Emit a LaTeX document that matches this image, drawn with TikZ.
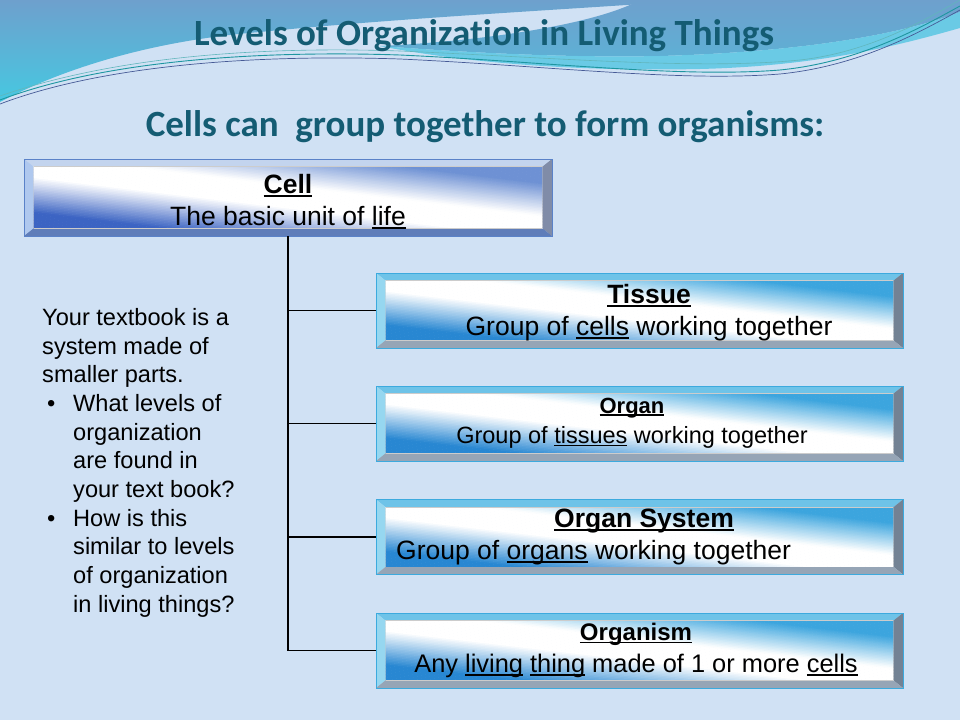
\documentclass[tikz,border=0pt]{standalone}
\usepackage{fontspec}
\setmainfont{Liberation Sans}
\newfontfamily\calib[Ligatures=NoCommon]{Carlito}
\definecolor{bgc}{RGB}{208,225,244}
\definecolor{skyA}{RGB}{110,160,205}
\definecolor{skyB}{RGB}{70,200,225}
\definecolor{bandc}{RGB}{95,200,228}
\definecolor{titlec}{RGB}{20,92,115}
\definecolor{lineA}{RGB}{30,150,160}
\definecolor{lineB}{RGB}{70,90,150}
% cell box colours
\definecolor{cTop}{RGB}{195,212,238}
\definecolor{cLeft}{RGB}{175,200,238}
\definecolor{cRight}{RGB}{128,140,168}
\definecolor{cBot}{RGB}{95,125,185}
\definecolor{cFaceA}{RGB}{60,100,195}
\definecolor{cFaceB}{RGB}{110,145,212}
\definecolor{cEdge}{RGB}{90,130,200}
% level box colours
\definecolor{lTop}{RGB}{110,195,232}
\definecolor{lLeft}{RGB}{150,215,240}
\definecolor{lRight}{RGB}{115,130,148}
\definecolor{lBot}{RGB}{150,165,182}
\definecolor{lFaceA}{RGB}{40,135,210}
\definecolor{lFaceB}{RGB}{60,165,222}
\definecolor{lEdge}{RGB}{60,170,222}
\newcommand\myul[1]{\leavevmode\setbox0\hbox{#1}\rlap{\rule[-0.14em]{\wd0}{0.075em}}\box0\relax}
\newcommand\bevelpic[4]{%
  \path (path picture bounding box.south west) coordinate (pSW)
        (path picture bounding box.north east) coordinate (pNE);
  \path (pSW |- pNE) coordinate (pNW) (pNE |- pSW) coordinate (pSE);
  \path ([shift={(10pt,8pt)}]pSW) coordinate (qSW)
        ([shift={(-10pt,-8pt)}]pNE) coordinate (qNE);
  \path (qSW |- qNE) coordinate (qNW) (qNE |- qSW) coordinate (qSE);
  \fill[#1] (pNW) -- (pNE) -- (qNE) -- (qNW) -- cycle;
  \fill[#2] (pNW) -- (qNW) -- (qSW) -- (pSW) -- cycle;
  \fill[#3] (pNE) -- (pSE) -- (qSE) -- (qNE) -- cycle;
  \fill[#4] (pSW) -- (qSW) -- (qSE) -- (pSE) -- cycle;
}
% diagonal face gradient: colour A at lower left, white diagonal, colour B at upper right
\newcommand\boxface[5]{%
  \begin{scope}
    \clip ([shift={(10pt,8pt)}]#1.south west) rectangle ([shift={(-10pt,-8pt)}]#1.north east);
    \begin{scope}[shift={([shift={(10pt,8pt)}]#1.south west)}, x={(#2,0pt)}, y={(0pt,#3)}]
      \foreach \i in {0,...,79} {
        \pgfmathsetmacro\ca{\i/80}
        \pgfmathsetmacro\cb{(\i+1.3)/80}
        \pgfmathsetmacro\cmid{(\i+0.5)/80}
        \pgfmathtruncatemacro\pA{\cmid<0.13 ? 100 : (\cmid<0.42 ? 100*(0.42-\cmid)/0.29 : 0)}
        \pgfmathtruncatemacro\pB{\cmid>0.87 ? 100 : (\cmid>0.6 ? 100*(\cmid-0.6)/0.27 : 0)}
        \colorlet{stripc}{#4!\pA!white}
        \colorlet{stripc}{#5!\pB!stripc}
        \fill[stripc] ({2*\ca+0.5},-0.5) -- ({2*\ca-1.5},1.5) -- ({2*\cb-1.5},1.5) -- ({2*\cb+0.5},-0.5) -- cycle;
      }
    \end{scope}
    \draw[white!60!gray, line width=0.5pt] ([shift={(10pt,8pt)}]#1.south west) rectangle ([shift={(-10pt,-8pt)}]#1.north east);
  \end{scope}
}
\begin{document}
\begin{tikzpicture}[x=1pt,y=-1pt,
  cellbox/.style={draw=cEdge, line width=0.8pt, inner sep=0pt,
    minimum width=528pt, minimum height=77pt,
    path picture={\bevelpic{cTop}{cLeft}{cRight}{cBot}}},
  lvlbox/.style={draw=lEdge, line width=0.8pt, inner sep=0pt,
    minimum width=527pt, minimum height=75pt,
    path picture={\bevelpic{lTop}{lLeft}{lRight}{lBot}}},
  big/.style={font=\fontsize{26.5}{30}\selectfont, inner sep=0pt, anchor=base},
  bigb/.style={font=\fontsize{26.5}{30}\selectfont\bfseries, inner sep=0pt, anchor=base},
  conn/.style={draw=black, line width=1.5pt},
  heading/.style={font=\calib\fontsize{37}{42}\selectfont\bfseries, text=titlec, inner sep=0pt, anchor=base}
]
\useasboundingbox (0,0) rectangle (960,720);
\fill[bgc] (0,0) rectangle (960,720);
% top wave
\shade[top color=skyA, bottom color=skyB]
  (0,0) -- (700,0) .. controls (560,10) and (400,18) .. (260,32)
  .. controls (160,40) and (70,65) .. (0,102) -- cycle;
\shade[top color=skyA, bottom color=skyA!60!skyB]
  (640,0) -- (960,0) -- (960,12) .. controls (900,35) and (800,52) .. (660,56)
  .. controls (560,58) and (460,52) .. (380,46) .. controls (500,40) and (600,22) .. (640,0) -- cycle;
\fill[bandc, opacity=0.9]
  (380,46) .. controls (460,52) and (560,58) .. (660,56)
  .. controls (800,52) and (900,35) .. (960,12) -- (960,28)
  .. controls (900,45) and (820,66) .. (700,69) .. controls (560,72) and (450,60) .. (380,46) -- cycle;
\draw[lineA, line width=0.9pt] (0,100) .. controls (100,62) and (250,50) .. (400,55)
  .. controls (550,62) and (680,78) .. (780,70) .. controls (860,62) and (920,28) .. (960,6);
\draw[lineB, line width=0.7pt] (0,104) .. controls (100,66) and (250,54) .. (400,59)
  .. controls (550,66) and (680,82) .. (780,74) .. controls (860,66) and (920,32) .. (960,10);
\draw[lineA!70!white, line width=0.6pt] (0,96) .. controls (110,58) and (250,46) .. (400,51)
  .. controls (560,58) and (700,70) .. (800,60) .. controls (870,52) and (925,20) .. (960,0);

% headings
\node[heading] (title) at (484,45) {Levels of Organization in Living Things};
\node[heading] (subtitle) at (485,136) {Cells can\ \ group together to form organisms:};

% boxes
\node[cellbox] (cell) at (288,197.5) {};
\node[lvlbox] (tissue) at (639.5,310.5) {};
\node[lvlbox] (organ) at (639.5,423.5) {};
\node[lvlbox] (system) at (639.5,537) {};
\node[lvlbox] (organism) at (639.5,650.5) {};
\boxface{cell}{508pt}{61pt}{cFaceA}{cFaceB}
\boxface{tissue}{507pt}{59pt}{lFaceA}{lFaceB}
\boxface{organ}{507pt}{59pt}{lFaceA}{lFaceB}
\boxface{system}{507pt}{59pt}{lFaceA}{lFaceB}
\boxface{organism}{507pt}{59pt}{lFaceA}{lFaceB}

% connectors
\draw[conn] (cell.south) -- (cell.south |- organism.west) -- (organism.west);
\draw[conn] (cell.south |- tissue.west) -- (tissue.west);
\draw[conn] (cell.south |- organ.west) -- (organ.west);
\draw[conn] (cell.south |- system.west) -- (system.west);

% box texts
\node[bigb] (cellT) at (288,193) {\myul{Cell}};
\node[big] (cellL) at (288,225) {The basic unit of \myul{life}};
\node[bigb] (tissueT) at (649,303) {\myul{Tissue}};
\node[big] (tissueL) at (649,335) {Group of \myul{cells} working together};
\node[bigb, font=\fontsize{22}{26}\selectfont\bfseries] (organT) at (632,413) {\myul{Organ}};
\node[big, font=\fontsize{23.5}{27}\selectfont] (organL) at (632,443) {Group of \myul{tissues} working together};
\node[bigb] (systemT) at (644,527) {\myul{Organ System}};
\node[big, anchor=base west] (systemL) at (396,559) {Group of \myul{organs} working together};
\node[bigb, font=\fontsize{24}{28}\selectfont\bfseries] (organismT) at (636,640) {\myul{Organism}};
\node[big, font=\fontsize{25.4}{28}\selectfont] (organismL) at (636,672) {Any \myul{living} \myul{thing} made of 1 or more \myul{cells}};

% side text
\node[anchor=north west, inner sep=0pt, align=left,
      font=\fontsize{23.6}{28.7}\selectfont] (side) at (42,308)
{Your textbook is a\\
system made of\\
smaller parts.\\
\hspace*{5pt}\makebox[26pt][l]{\textbullet}What levels of\\
\hspace*{31pt}organization\\
\hspace*{31pt}are found in\\
\hspace*{31pt}your text book?\\
\hspace*{5pt}\makebox[26pt][l]{\textbullet}How is this\\
\hspace*{31pt}similar to levels\\
\hspace*{31pt}of organization\\
\hspace*{31pt}in living things?};
\end{tikzpicture}
\end{document}
